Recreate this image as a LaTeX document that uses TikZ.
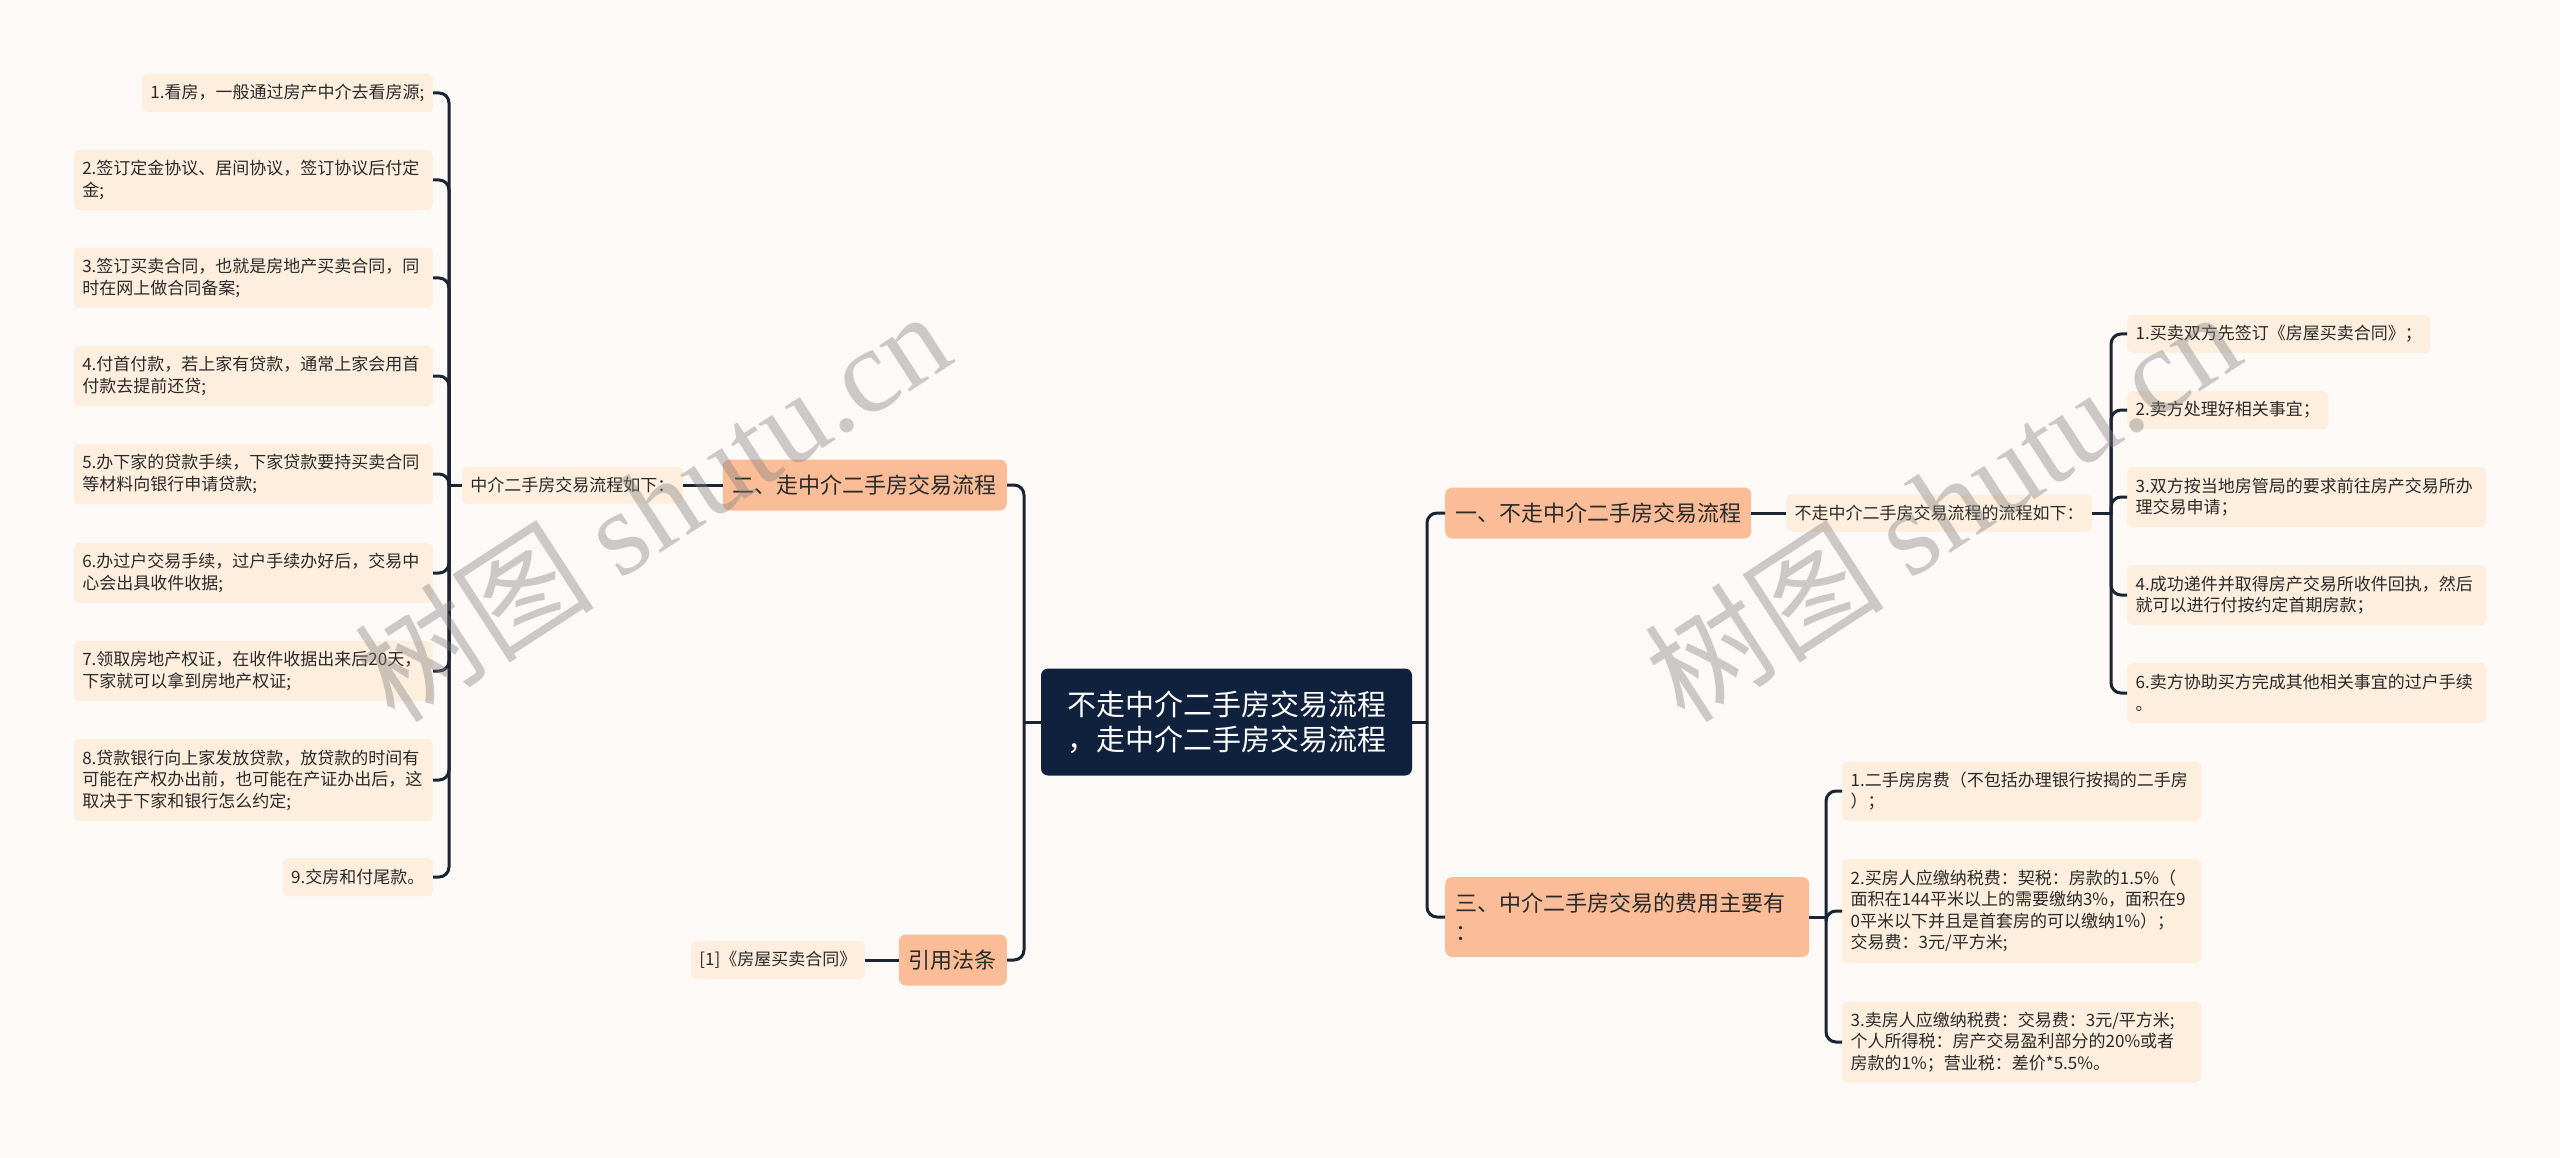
\documentclass[tikz,border=0pt]{standalone}
\usepackage{fontspec}
\newfontfamily\cjk{Noto Sans CJK SC}
\newfontfamily\wmserif{Liberation Serif}
\definecolor{bgc}{HTML}{FDF9F7}
\definecolor{leafc}{HTML}{FDEEDD}
\definecolor{mainc}{HTML}{FABD98}
\definecolor{rootc}{HTML}{10213D}
\definecolor{linec}{HTML}{1B2433}
\definecolor{txtc}{HTML}{2A2A2A}
\begin{document}
\begin{tikzpicture}[x=1pt,y=-1pt,
  conn/.style={draw=linec, line width=3pt, rounded corners=10pt},
  leaf/.style={fill=leafc, rounded corners=6pt, inner xsep=8.5pt, inner ysep=0pt, minimum height=38pt, text=txtc, font=\cjk\fontsize{17}{21.5}\selectfont, align=left},
  wide/.style={leaf, text width=342pt},
  mainn/.style={fill=mainc, rounded corners=7pt, inner xsep=10pt, inner ysep=0pt, minimum height=51pt, text=txtc, font=\cjk\fontsize{22}{29}\selectfont, align=left},
  rootn/.style={fill=rootc, rounded corners=7pt, text=white, font=\cjk\fontsize{29}{35}\selectfont, align=center, minimum width=371pt, minimum height=107pt, inner sep=0pt},
  wm/.style={text=gray, opacity=0.4, rotate=33, font=\fontsize{120}{120}\selectfont}
]
\fill[bgc] (0,0) rectangle (2560,1158);
\useasboundingbox (0,0) rectangle (2560,1158);

% root
\node[rootn] (root) at (1226.5,722) {不走中介二手房交易流程\\，走中介二手房交易流程};

% main branches
\node[mainn, anchor=east] (b2) at (1007,485) {二、走中介二手房交易流程};
\node[mainn, anchor=east] (bref) at (1007,960) {引用法条};
\node[mainn, anchor=west] (b1) at (1445,513) {一、不走中介二手房交易流程};
\node[mainn, anchor=west, text width=344pt, minimum height=80pt] (b3) at (1445,917) {三、中介二手房交易的费用主要有\\：};

% sub nodes
\node[leaf, anchor=east, minimum height=37pt] (s2) at (683,485) {中介二手房交易流程如下：};
\node[leaf, anchor=east] (sref) at (865,960) {[1]《房屋买卖合同》};
\node[leaf, anchor=west, minimum height=37pt] (s1) at (1786,513) {不走中介二手房交易流程的流程如下：};

% left leaves
\node[leaf, anchor=east] (L1) at (433,93) {1.看房，一般通过房产中介去看房源;};
\node[wide, anchor=east, minimum height=60pt] (L2) at (433,180) {2.签订定金协议、居间协议，签订协议后付定\\金;};
\node[wide, anchor=east, minimum height=60pt] (L3) at (433,278) {3.签订买卖合同，也就是房地产买卖合同，同\\时在网上做合同备案;};
\node[wide, anchor=east, minimum height=60pt] (L4) at (433,376) {4.付首付款，若上家有贷款，通常上家会用首\\付款去提前还贷;};
\node[wide, anchor=east, minimum height=60pt] (L5) at (433,474) {5.办下家的贷款手续，下家贷款要持买卖合同\\等材料向银行申请贷款;};
\node[wide, anchor=east, minimum height=60pt] (L6) at (433,573) {6.办过户交易手续，过户手续办好后，交易中\\心会出具收件收据;};
\node[wide, anchor=east, minimum height=60pt] (L7) at (433,671) {7.领取房地产权证，在收件收据出来后20天，\\下家就可以拿到房地产权证;};
\node[wide, anchor=east, minimum height=82pt] (L8) at (433,780) {8.贷款银行向上家发放贷款，放贷款的时间有\\可能在产权办出前，也可能在产证办出后，这\\取决于下家和银行怎么约定;};
\node[leaf, anchor=east] (L9) at (433,877) {9.交房和付尾款。};

% right leaves (process)
\node[leaf, anchor=west] (R1) at (2127,334) {1.买卖双方先签订《房屋买卖合同》；};
\node[leaf, anchor=west] (R2) at (2127,410) {2.卖方处理好相关事宜；};
\node[wide, anchor=west, minimum height=60pt] (R3) at (2127,497) {3.双方按当地房管局的要求前往房产交易所办\\理交易申请；};
\node[wide, anchor=west, minimum height=60pt] (R4) at (2127,595) {4.成功递件并取得房产交易所收件回执，然后\\就可以进行付按约定首期房款；};
\node[wide, anchor=west, minimum height=60pt] (R5) at (2127,693) {6.卖方协助买方完成其他相关事宜的过户手续\\。};

% right leaves (fees)
\node[wide, anchor=west, minimum height=59pt] (F1) at (1842,791) {1.二手房房费（不包括办理银行按揭的二手房\\）；};
\node[wide, anchor=west, minimum height=104pt] (F2) at (1842,911) {2.买房人应缴纳税费：契税：房款的1.5\%（\\面积在144平米以上的需要缴纳3\%，面积在9\\0平米以下并且是首套房的可以缴纳1\%）；\\交易费：3元/平方米;};
\node[wide, anchor=west, minimum height=81pt] (F3) at (1842,1042) {3.卖房人应缴纳税费：交易费：3元/平方米;\\个人所得税：房产交易盈利部分的20\%或者\\房款的1\%；营业税：差价*5.5\%。};

% junction points
\coordinate (cL) at (1024,722);
\coordinate (cR) at (1427,722);
\coordinate (jA) at (449,485);
\coordinate (jB) at (2111,513);
\coordinate (jC) at (1826,917);

% connectors
\draw[conn] (root.west) -- (cL);
\draw[conn] (root.east) -- (cR);
\draw[conn] (cL) |- (b2.east);
\draw[conn] (cL) |- (bref.east);
\draw[conn] (cR) |- (b1.west);
\draw[conn] (cR) |- (b3.west);

\draw[conn] (b2.west) -- (s2.east);
\draw[conn] (bref.west) -- (sref.east);
\draw[conn] (b1.east) -- (s1.west);

\draw[conn] (s2.west) -- (jA);
\foreach \n in {L1,L2,L3,L4,L5,L6,L7,L8,L9} \draw[conn] (jA) |- (\n.east);

\draw[conn] (s1.east) -- (jB);
\foreach \n in {R1,R2,R3,R4,R5} \draw[conn] (jB) |- (\n.west);

\draw[conn] (b3.east) -- (jC);
\foreach \n in {F1,F2,F3} \draw[conn] (jC) |- (\n.west);

% watermarks
\node[wm] (wm1) at (652,505) {\cjk 树图 \wmserif shutu.cn};
\node[wm] (wm2) at (1942,505) {\cjk 树图 \wmserif shutu.cn};
\end{tikzpicture}
\end{document}
